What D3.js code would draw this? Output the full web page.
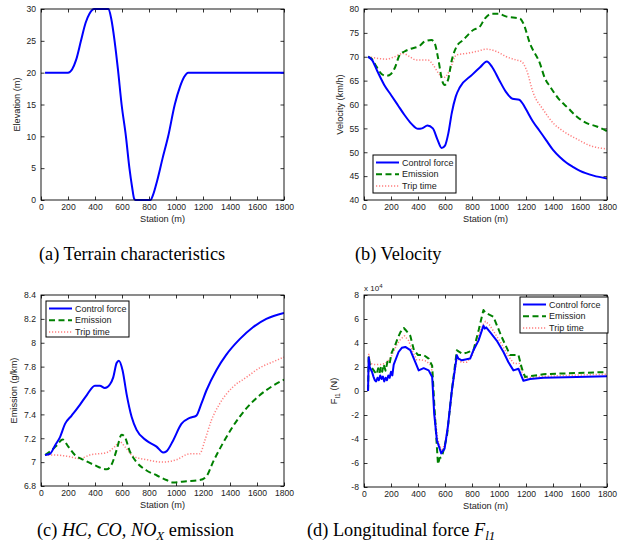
<!DOCTYPE html>
<html><head><meta charset="utf-8">
<script src="https://cdn.jsdelivr.net/npm/d3@7"></script>
<style>
body{margin:0;background:#fff;}
svg{display:block;}
</style></head>
<body>
<svg id="c" width="629" height="552"></svg>
<script>
// ---------- DATA ----------
const xTicks = [0,200,400,600,800,1000,1200,1400,1600,1800];
const seriesNames = ["Control force","Emission","Trip time"];

// (a) terrain: [station, elevation]
const terrain = [[30,20],[200,20],[230,20.5],[260,22],[296,25],[330,27.8],[360,29.3],[395,30],[500,30],[520,28.5],[545,25],[570,20.5],[597,15],[629,10],[655,5],[675,2],[690,0.2],[700,0],[810,0],[830,0.8],[860,3],[900,6.5],[942,10],[991,15],[1030,17.8],[1060,19.3],[1090,20],[1800,20]];
const elevTicks = [0,5,10,15,20,25,30];

// (b) velocity (km/h)
const velControl = [[30,70],[60,69.3],[100,66.9],[150,64.1],[200,62],[250,59.9],[300,57.8],[350,56],[400,54.9],[430,55],[470,55.6],[510,55],[545,52.6],[575,50.9],[600,51.4],[625,54],[650,58.2],[680,61.7],[710,63.6],[800,66.2],[860,67.8],[910,69],[950,67.8],[1000,65.2],[1050,62.7],[1100,61.2],[1150,61],[1175,60.2],[1200,59],[1250,56.5],[1300,54.5],[1350,52.5],[1400,50.5],[1450,49],[1500,47.8],[1550,46.9],[1600,46.1],[1700,45.1],[1800,44.5]];
const velEmission = [[30,70],[60,69.5],[91,68],[130,66.4],[166,66],[200,66.4],[227,67.6],[265,70.4],[300,71.1],[339,71.6],[413,72.3],[450,73.2],[500,73.5],[524,72.8],[549,69.7],[581,64.8],[598,64.1],[623,65.2],[648,69],[685,72.1],[734,73.5],[809,75.6],[858,76.3],[895,78],[945,79],[994,79],[1056,78.4],[1155,78],[1180,77],[1229,72.8],[1303,68.6],[1340,65.5],[1377,63.8],[1439,61.3],[1513,59.2],[1575,57.5],[1649,56.1],[1724,55.4],[1800,54.4]];
const velTrip = [[30,70],[91,69.7],[166,69.5],[227,70],[289,70.7],[339,70],[388,69.3],[475,69.3],[512,68.3],[561,66.2],[598,65.7],[635,67.2],[685,70.4],[759,70.7],[833,71.1],[907,71.6],[981,71.1],[1056,70],[1130,69.3],[1167,69],[1204,67.2],[1254,62.4],[1328,58.9],[1402,56.1],[1476,54.4],[1575,52.8],[1674,51.4],[1800,50.7]];
const velTicks = [40,45,50,55,60,65,70,75,80];

// (c) emission (g/km)
const emiControl = [[30,7.06],[67,7.07],[104,7.14],[141,7.21],[178,7.32],[227,7.39],[288,7.48],[338,7.56],[399,7.64],[436,7.64],[473,7.62],[510,7.65],[535,7.71],[560,7.83],[577,7.85],[604,7.77],[634,7.57],[671,7.38],[708,7.27],[782,7.18],[856,7.13],[905,7.08],[929,7.09],[978,7.18],[1040,7.32],[1102,7.37],[1151,7.39],[1188,7.49],[1225,7.6],[1299,7.77],[1373,7.9],[1472,8.03],[1570,8.13],[1669,8.2],[1800,8.25]];
const emiEmission = [[30,7.06],[79,7.1],[116,7.14],[160,7.19],[202,7.13],[251,7.06],[313,7.02],[387,6.98],[486,6.94],[523,6.98],[560,7.1],[597,7.23],[621,7.21],[658,7.09],[708,7],[782,6.93],[856,6.89],[929,6.85],[978,6.83],[1077,6.84],[1176,6.85],[1225,6.88],[1274,7],[1348,7.16],[1422,7.3],[1521,7.45],[1620,7.56],[1718,7.64],[1800,7.69]];
const emiTrip = [[30,7.06],[91,7.06],[190,7.05],[288,7.03],[362,7.06],[486,7.08],[547,7.13],[584,7.17],[621,7.13],[683,7.05],[782,7.02],[905,7],[1003,7.02],[1102,7.07],[1176,7.07],[1213,7.18],[1262,7.35],[1324,7.49],[1422,7.63],[1521,7.71],[1620,7.79],[1718,7.84],[1800,7.88]];
const emiTicks = [6.8,7,7.2,7.4,7.6,7.8,8,8.2,8.4];

// (d) longitudinal force (x10^4 N)
const frcControl = [[30,0],[35,2.8],[42,2.0],[59,1.6],[70,1.2],[80,0.9],[90,0.8],[100,1.1],[110,0.9],[120,1.3],[130,1.0],[140,1.2],[150,0.8],[160,1.1],[170,0.9],[180,1.3],[190,1.1],[200,1.6],[210,1.3],[220,2.2],[256,3.25],[280,3.6],[306,3.67],[343,3.4],[380,2.4],[405,1.72],[442,1.9],[479,1.72],[505,1.17],[520,-1.9],[540,-4.1],[572,-5.2],[597,-4.8],[621,-3.0],[651,0.06],[688,2.97],[700,2.7],[725,2.56],[786,2.7],[811,3.4],[848,4.2],[885,5.45],[895,5.2],[905,5.3],[934,4.9],[983,4.2],[1033,3.25],[1070,2.4],[1107,1.72],[1144,1.86],[1164,1.3],[1181,0.85],[1230,1.0],[1329,1.1],[1575,1.17],[1800,1.22]];
const frcEmission = [[30,0],[35,2.9],[45,2.1],[60,1.9],[80,1.6],[95,1.4],[105,1.9],[115,1.5],[125,2.0],[135,1.6],[145,2.2],[160,1.7],[175,2.5],[190,2.3],[205,3.2],[230,3.8],[250,4.4],[270,4.9],[295,5.25],[315,5.0],[343,4.6],[370,3.4],[400,3.0],[442,3.0],[479,2.7],[505,2.1],[520,-1.0],[535,-3.8],[548,-6.1],[560,-5.6],[577,-5.5],[614,-3.8],[650,0.0],[688,3.4],[700,3.3],[730,3.1],[762,3.2],[811,3.4],[850,5.1],[875,6.3],[885,6.75],[900,6.5],[920,6.4],[958,6.2],[1020,4.5],[1082,3.0],[1144,3.0],[1169,1.9],[1193,1.17],[1329,1.4],[1575,1.5],[1800,1.58]];
const frcTrip = [[30,0],[35,3.1],[45,2.3],[80,2.2],[120,2.2],[160,2.3],[200,2.8],[240,3.8],[270,4.3],[300,4.6],[330,4.2],[360,3.3],[390,2.6],[420,2.6],[460,2.5],[500,2.1],[520,-1.5],[545,-4.0],[575,-5.0],[600,-4.4],[625,-2.8],[655,0.3],[690,2.8],[720,2.4],[760,2.4],[800,2.9],[840,4.3],[880,5.5],[900,5.8],[930,5.5],[970,4.8],[1020,3.9],[1070,2.9],[1110,2.3],[1150,2.3],[1170,1.6],[1190,1.1],[1300,1.2],[1500,1.3],[1800,1.4]];
const frcTicks = [-8,-6,-4,-2,0,2,4,6,8];

// ---------- DRAW ----------
const svg = d3.select("#c");
const FONT = "Liberation Sans, Arial, sans-serif";
const styles = [
  {color:"#0000ff", width:2, dash:null},
  {color:"#008000", width:2, dash:"6,3.5"},
  {color:"#ff7f7f", width:1.5, dash:"1.2,1.8"}
];

function panel(o){
  const x = d3.scaleLinear().domain([0,1800]).range([o.x0,o.x1]);
  const y = d3.scaleLinear().domain(o.yDomain).range([o.y1,o.y0]);
  const g = svg.append("g");
  const fmt = o.fmt || (d=>String(d));
  const ax = (axis, tr, ticks, labels, scale) => {
    const a = g.append("g").attr("transform", tr).call(
      axis(scale).tickValues(ticks).tickSizeInner(-3.5).tickSizeOuter(0).tickPadding(labels?5:0)
        .tickFormat(labels ? (scale===x? (d=>String(d)) : fmt) : ""));
    a.select(".domain").remove();
    a.selectAll("line").attr("stroke","#000").attr("stroke-width",0.8);
    a.selectAll("text").attr("font-family",FONT).attr("font-size","8.6px").attr("fill","#222");
    return a;
  };
  const bx = ax(d3.axisBottom, `translate(0,${o.y1})`, xTicks, true, x);
  bx.selectAll("text").attr("y",10).attr("dy","0");
  ax(d3.axisTop, `translate(0,${o.y0})`, xTicks, false, x);
  ax(d3.axisLeft, `translate(${o.x0},0)`, o.yTicks, true, y);
  ax(d3.axisRight, `translate(${o.x1},0)`, o.yTicks, false, y);

  const clipId = "clip"+o.id;
  svg.append("clipPath").attr("id",clipId).append("rect")
    .attr("x",o.x0).attr("y",o.y0-1).attr("width",o.x1-o.x0).attr("height",o.y1-o.y0+2);
  const line = d3.line().x(d=>x(d[0])).y(d=>y(d[1])).curve(o.curve || d3.curveMonotoneX);
  const order = o.series.map((s,i)=>i).reverse();
  order.forEach(i=>{
    const st = styles[i];
    g.append("path").datum(o.series[i]).attr("d",line)
      .attr("clip-path",`url(#${clipId})`)
      .attr("fill","none").attr("stroke",st.color).attr("stroke-width",st.width)
      .attr("stroke-dasharray",st.dash).attr("stroke-linejoin","round");
  });
  g.append("rect").attr("x",o.x0).attr("y",o.y0).attr("width",o.x1-o.x0).attr("height",o.y1-o.y0)
    .attr("fill","none").attr("stroke","#000").attr("stroke-width",0.9);

  g.append("text").attr("x",(o.x0+o.x1)/2).attr("y",o.y1+22).attr("text-anchor","middle")
    .attr("font-family",FONT).attr("font-size","9.2px").attr("fill","#222").text("Station (m)");
  const yl = g.append("text").attr("transform",`translate(${o.ylx},${(o.y0+o.y1)/2}) rotate(-90)`)
    .attr("text-anchor","middle").attr("font-family",FONT).attr("font-size","9.2px").attr("fill","#222");
  if (o.ylabelFn) o.ylabelFn(yl); else yl.text(o.ylabel);

  if (o.legend){
    const L = o.legend;
    g.append("rect").attr("x",L.x).attr("y",L.y).attr("width",L.w).attr("height",L.h)
      .attr("fill","#fff").attr("stroke","#000").attr("stroke-width",1);
    seriesNames.forEach((n,i)=>{
      const ry = L.y + 7.5 + i*11.7;
      const st = styles[i];
      g.append("line").attr("x1",L.x+3).attr("x2",L.x+26).attr("y1",ry).attr("y2",ry)
        .attr("stroke",st.color).attr("stroke-width",st.width).attr("stroke-dasharray",st.dash);
      g.append("text").attr("x",L.x+29).attr("y",ry).attr("dy","0.35em")
        .attr("font-family",FONT).attr("font-size","9px").attr("fill","#222").text(n);
    });
  }
  return {x,y,g};
}

const fmtTrim = d => d3.format(".1f")(d).replace(/\.0$/,"");

panel({id:"a", x0:41,x1:284,y0:9,y1:200, yDomain:[0,30], yTicks:elevTicks,
  series:[terrain], ylabel:"Elevation (m)", ylx:20});
panel({id:"b", x0:364,x1:607,y0:9,y1:200, yDomain:[40,80], yTicks:velTicks,
  series:[velControl, velEmission, velTrip], ylabel:"Velocity (km/h)", ylx:343,
  legend:{x:373,y:155,w:83,h:38}});
panel({id:"c", x0:41,x1:284,y0:295,y1:486, yDomain:[6.8,8.4], yTicks:emiTicks, fmt:fmtTrim,
  series:[emiControl, emiEmission, emiTrip], ylabel:"Emission (g/km)", ylx:17,
  legend:{x:46,y:301,w:83,h:36}});
panel({id:"d", x0:364,x1:607,y0:295,y1:487, yDomain:[-8,8], yTicks:frcTicks,
  series:[frcControl, frcEmission, frcTrip], ylx:337, curve:d3.curveLinear,
  ylabelFn: t => { t.append("tspan").text("F");
    t.append("tspan").attr("dy","2.5").attr("font-size","7px").text("l1");
    t.append("tspan").attr("dy","-2.5").text(" (N)"); },
  legend:{x:520,y:297,w:88,h:36}});

// x 10^4 multiplier
const m = svg.append("text").attr("x",364).attr("y",291).attr("font-family",FONT)
  .attr("font-size","8px").attr("fill","#222");
m.append("tspan").text("x 10");
m.append("tspan").attr("dy","-3").attr("font-size","6px").text("4");

// captions
const SERIF = "Liberation Serif, Times New Roman, serif";
function caption(x, y, parts){
  const t = svg.append("text").attr("x",x).attr("y",y).attr("font-family",SERIF)
    .attr("font-size","18.3px").attr("fill","#000");
  parts.forEach(p=>{
    const s = t.append("tspan").text(p.t);
    if (p.i) s.attr("font-style","italic");
    if (p.sub) s.attr("dy",p.sub).attr("font-size","13px");
    if (p.dy) s.attr("dy",p.dy);
  });
}
caption(39,260,[{t:"(a)  Terrain characteristics"}]);
caption(355,260,[{t:"(b)  Velocity"}]);
caption(37,536,[{t:"(c)  "},{t:"HC, CO, NO",i:true},{t:"X",i:true,sub:"3.5"},{t:" emission",dy:"-3.5"}]);
caption(307,536,[{t:"(d)  Longitudinal force "},{t:"F",i:true},{t:"l1",i:true,sub:"3.5"}]);
</script>
</body></html>
